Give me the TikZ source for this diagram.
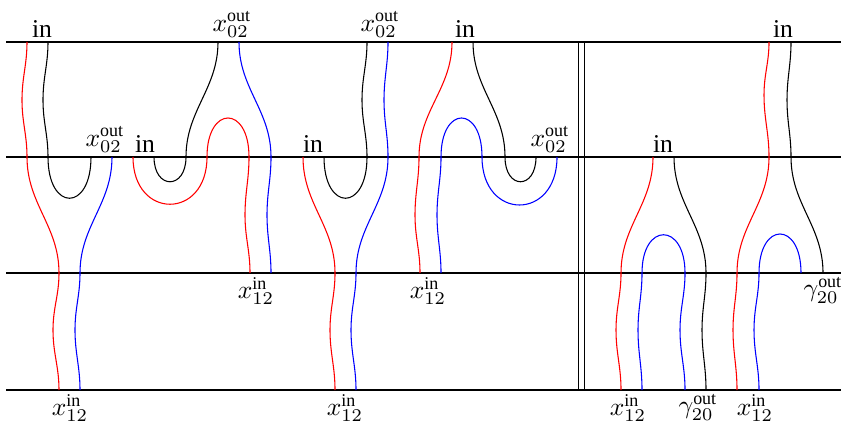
\documentclass[tikz,border=0pt]{standalone}
\usepackage{fontspec}
\setmainfont{Liberation Serif}
\usepackage{tikz}
\tikzset{
  lev/.style={line width=0.4pt,black},
  strand/.style={line width=0.42pt},
  dn/.style={out=-90,in=90},
  upw/.style={out=90,in=-90},
  lab/.style={inner sep=1.5pt},
}
\begin{document}
\begin{tikzpicture}[x=0.39pt,y=0.39pt]
  \useasboundingbox (0,0) rectangle (841,-424);
  % levels
  \foreach \y in {42,157,273,390}{
    \draw[lev] (6,-\y) -- (845,-\y);}
  % separator
  \draw[lev] (578,-42) -- (578,-390) (584,-42) -- (584,-390);
  % first diagram
  \draw[strand,red] (27,-42) to[dn] (22,-100) to[dn] (27,-157) to[dn] (59,-273) to[dn] (53,-330) to[dn] (59,-390);
  \draw[strand] (48,-42) to[dn] (43,-100) to[dn] (48,-157) .. controls +(0,-55) and +(0,-55) .. (91,-157);
  \draw[strand,blue] (112,-157) to[dn] (80,-273) to[dn] (75,-330) to[dn] (80,-390);
  % second diagram
  \draw[strand,red] (133,-157) .. controls +(0,-63) and +(0,-63) .. (207,-157) .. controls +(0,52) and +(0,52) .. (249,-157) to[dn] (245,-215) to[dn] (250,-273);
  \draw[strand] (154,-157) .. controls +(0,-33) and +(0,-33) .. (186,-157) to[upw] (218,-42);
  \draw[strand,blue] (239,-42) to[dn] (271,-157) to[dn] (267,-215) to[dn] (271,-273);
  % third diagram
  \draw[strand,red] (303,-157) to[dn] (335,-273) to[dn] (330,-330) to[dn] (335,-390);
  \draw[strand] (367,-42) to[dn] (362,-100) to[dn] (367,-157) .. controls +(0,-55) and +(0,-55) .. (324,-157);
  \draw[strand,blue] (388,-42) to[dn] (384,-100) to[dn] (388,-157) to[dn] (356,-273) to[dn] (351,-330) to[dn] (356,-390);
  % fourth diagram
  \draw[strand,red] (452,-42) to[dn] (419,-157) to[dn] (415,-215) to[dn] (420,-273);
  \draw[strand] (473,-42) to[dn] (505,-157) .. controls +(0,-33) and +(0,-33) .. (536,-157);
  \draw[strand,blue] (557,-157) .. controls +(0,-64) and +(0,-64) .. (482,-157) .. controls +(0,52) and +(0,52) .. (441,-157) to[dn] (437,-215) to[dn] (441,-273);
  % right part: fifth diagram
  \draw[strand,red] (653,-157) to[dn] (621,-273) to[dn] (616,-330) to[dn] (621,-390);
  \draw[strand] (674,-157) to[dn] (706,-273) to[dn] (702,-330) to[dn] (706,-390);
  \draw[strand,blue] (642,-390) to[upw] (638,-330) to[upw] (642,-273) .. controls +(0,51) and +(0,51) .. (685,-273) to[dn] (680,-330) to[dn] (685,-390);
  % sixth diagram
  \draw[strand,red] (769,-42) to[dn] (764,-95) to[dn] (769,-157) to[dn] (737,-273) to[dn] (733,-330) to[dn] (737,-390);
  \draw[strand] (791,-42) to[dn] (787,-100) to[dn] (791,-157) to[dn] (823,-273);
  \draw[strand,blue] (759,-390) to[upw] (754,-330) to[upw] (759,-273) .. controls +(0,52) and +(0,52) .. (801,-273);
  % labels above the levels
  \foreach \n/\x/\y in {tin1/42/42, tin4/465/42, tin6/783/42, min2/145/157, min3/313/157, min5/663/157}{
    \node[lab,anchor=south] (\n) at (\x,-\y) {in};}
  \foreach \n/\x/\y in {tout2/232/42, tout3/380/42, mout1/105/157, mout4/550/157}{
    \node[lab,anchor=south] (\n) at (\x,-\y) {$x^{\mathrm{out}}_{02}$};}
  % labels below the levels
  \foreach \n/\x/\y in {lin2/256/273, lin4/428/273, bin1/70/390, bin3/345/390, bin5/628/390, bin6/755/390}{
    \node[lab,anchor=north] (\n) at (\x,-\y) {$x^{\mathrm{in}}_{12}$};}
  \foreach \n/\x/\y in {lout6/823/273, bout5/698/390}{
    \node[lab,anchor=north] (\n) at (\x,-\y) {$\gamma^{\mathrm{out}}_{20}$};}
\end{tikzpicture}
\end{document}
